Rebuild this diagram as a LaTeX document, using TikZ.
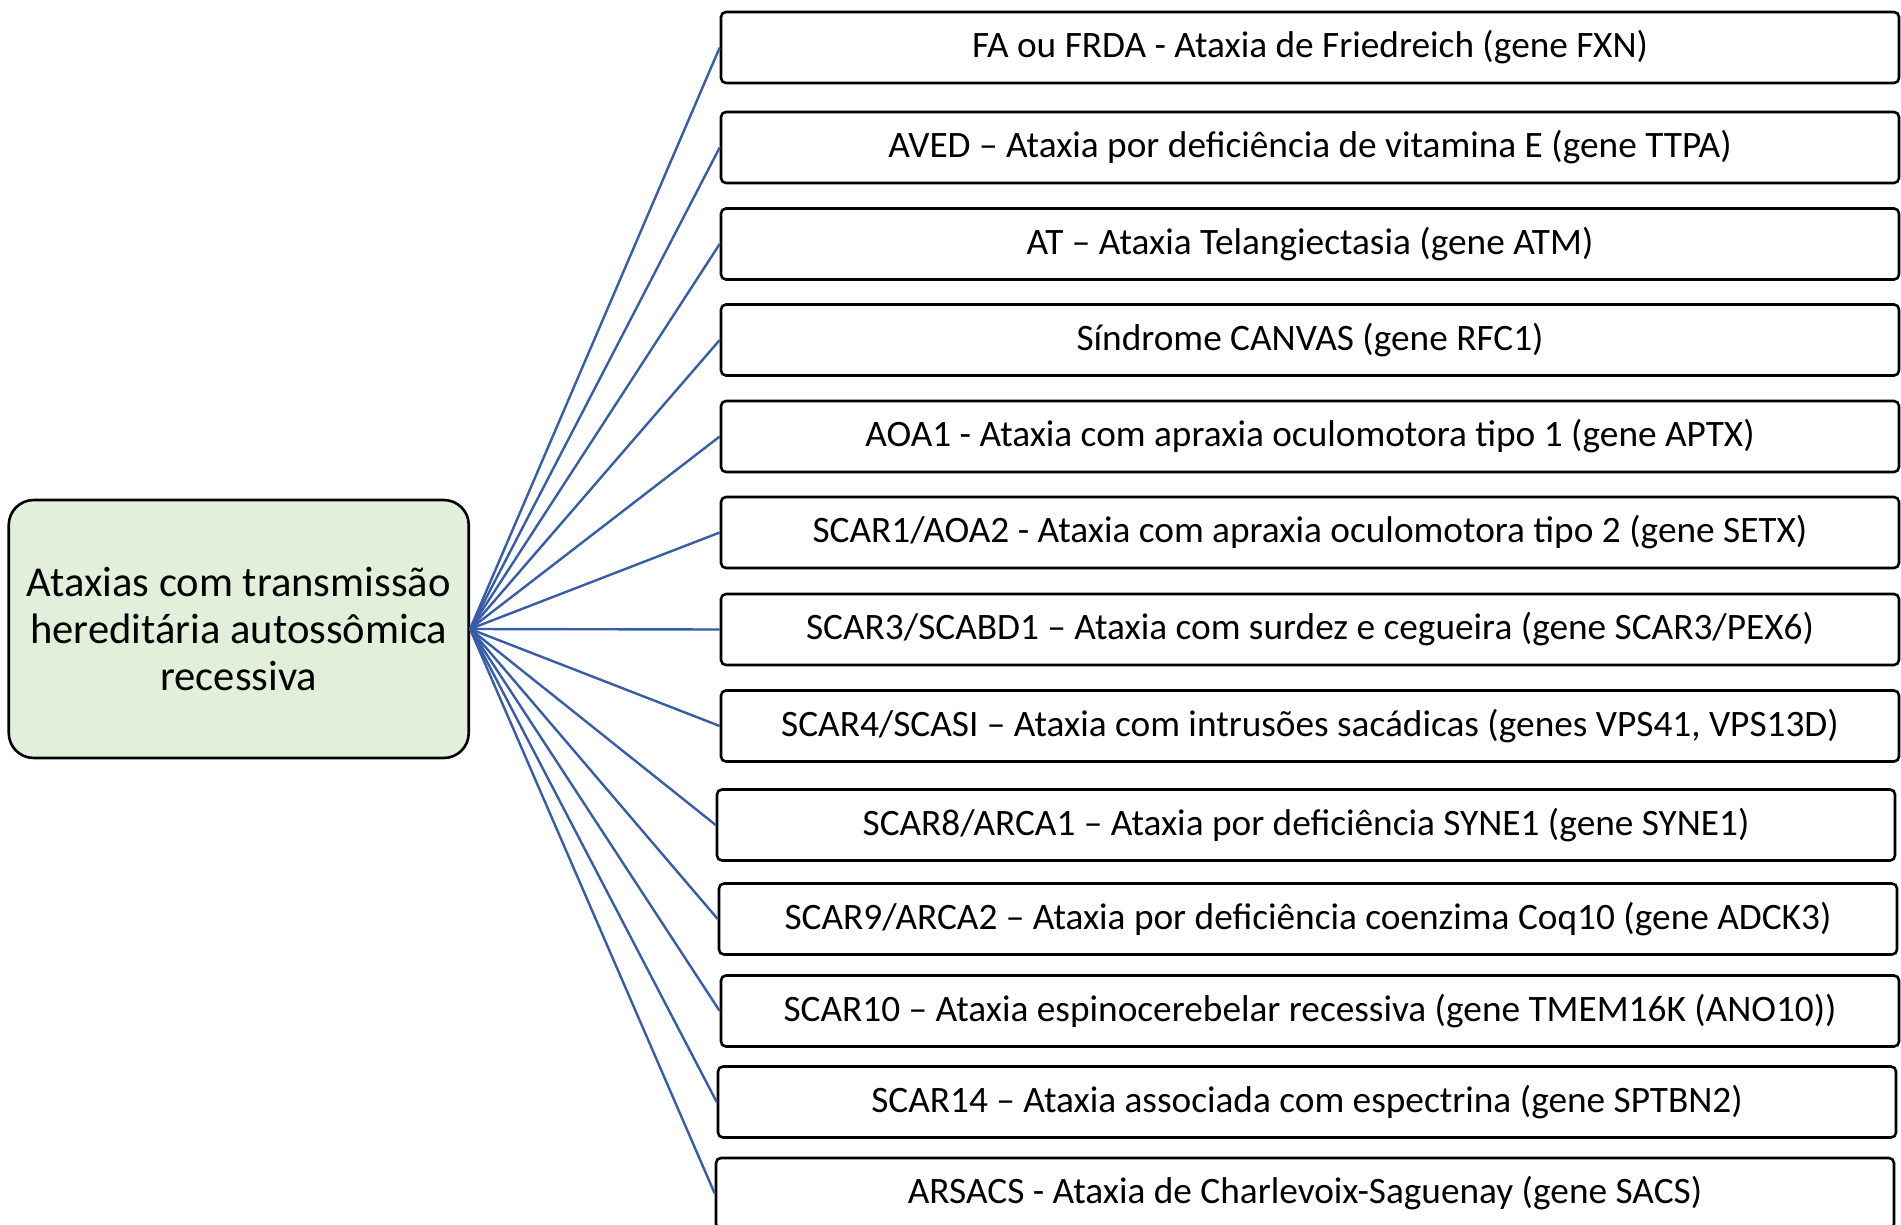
\documentclass[tikz,border=0pt]{standalone}
\usepackage{fontspec}
\setmainfont{Carlito}
\definecolor{linkblue}{RGB}{55,92,168}
\definecolor{rootgreen}{RGB}{226,239,218}
\tikzset{
    root/.style={draw=black, line width=1.3pt, fill=rootgreen, rounded corners=12.5pt,
        minimum width=230pt, minimum height=129pt, align=center,
        font=\fontsize{21.3}{23.5}\selectfont},
    leaf/.style={draw=black, line width=1.3pt, fill=white, rounded corners=2.5pt,
        minimum width=589pt, minimum height=35.5pt, inner sep=0pt,
        font=\fontsize{18.65}{22}\selectfont},
    link/.style={draw=linkblue, line width=1.2pt}
}
\begin{document}
\begin{tikzpicture}[x=0.5pt,y=-0.5pt]
    \useasboundingbox (0,0) rectangle (1901,1225);
    \node[root] (root) at (238.75,629) {Ataxias com transmissão\\hereditária autossômica\\recessiva};
    \node[leaf] (fa)     at (1310,47.5)  {FA ou FRDA - Ataxia de Friedreich (gene FXN)};
    \node[leaf] (aved)   at (1310,147.5) {AVED – Ataxia por deficiência de vitamina E (gene TTPA)};
    \node[leaf] (at)     at (1310,244)   {AT – Ataxia Telangiectasia (gene ATM)};
    \node[leaf] (canvas) at (1310,340)   {Síndrome CANVAS (gene RFC1)};
    \node[leaf] (aoaone) at (1310,436.5) {AOA1 - Ataxia com apraxia oculomotora tipo 1 (gene APTX)};
    \node[leaf] (scarA)  at (1310,532.5) {SCAR1/AOA2 - Ataxia com apraxia oculomotora tipo 2 (gene SETX)};
    \node[leaf] (scarC)  at (1310,629.5) {SCAR3/SCABD1 – Ataxia com surdez e cegueira (gene SCAR3/PEX6)};
    \node[leaf] (scarD)  at (1310,726)   {SCAR4/SCASI – Ataxia com intrusões sacádicas (genes VPS41, VPS13D)};
    \node[leaf] (scarH)  at (1306,825)   {SCAR8/ARCA1 – Ataxia por deficiência SYNE1 (gene SYNE1)};
    \node[leaf] (scarI)  at (1308,919)   {SCAR9/ARCA2 – Ataxia por deficiência coenzima Coq10 (gene ADCK3)};
    \node[leaf] (scarJ)  at (1310,1011)  {SCAR10 – Ataxia espinocerebelar recessiva (gene TMEM16K (ANO10))};
    \node[leaf] (scarN)  at (1307,1102)  {SCAR14 – Ataxia associada com espectrina (gene SPTBN2)};
    \node[leaf] (arsacs) at (1305,1193.5) {ARSACS - Ataxia de Charlevoix-Saguenay (gene SACS)};
    \foreach \n in {fa,aved,at,canvas,aoaone,scarA,scarC,scarD,scarH,scarI,scarJ,scarN,arsacs}
        \draw[link] (root.east) -- (\n.west);
\end{tikzpicture}
\end{document}
